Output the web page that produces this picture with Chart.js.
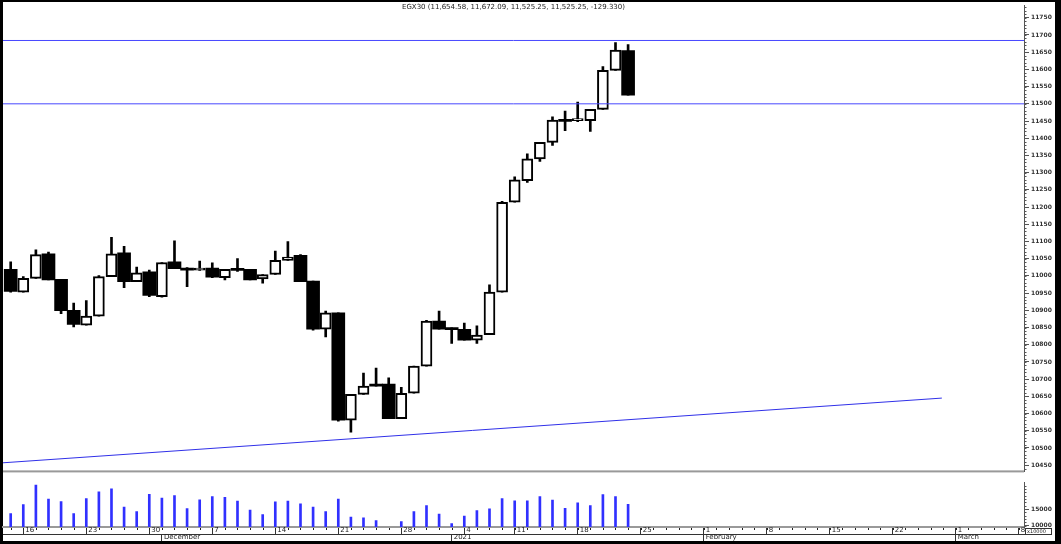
<!DOCTYPE html>
<html>
<head>
<meta charset="utf-8">
<script src="https://cdn.jsdelivr.net/npm/chart.js@4.4.1/dist/chart.umd.min.js"></script>
<style>
  html, body { margin: 0; padding: 0; background: #000; }
  #wrap { position: relative; width: 1061px; height: 544px; overflow: hidden; background: #000; }
  #paper { position: absolute; left: 3px; top: 2px; width: 1052px; height: 539px; background: #fff; }
  canvas { position: absolute; left: 0; }
  #price { top: 0; }
  #vol { top: 477px; }
</style>
</head>
<body>
<div id="wrap">
  <div id="paper"></div>
  <canvas id="price" width="1061" height="477"></canvas>
  <canvas id="vol" width="1061" height="67"></canvas>
</div>
<script>
const chartTitle = "EGX30 (11,654.58, 11,672.09, 11,525.25, 11,525.25, -129.330)";
const volUnit = "x10000";

// one entry per trading day, index 0 = 13 Nov 2020
const opens  = [11019, 10953, 10993, 11064, 10990, 10900, 10857, 10883, 10998, 11067,
                10983, 11012, 10940, 11041, 11022, 11017, 11023, 10995, 11019, 11019,
                10991, 11004, 11045, 11060, 10985, 10845, 10893, 10581, 10656, 10686,
                10686, 10585, 10659, 10738, 10869, 10849, 10845, 10813, 10829, 10953,
                11214, 11277, 11340, 11388, 11453, 11451, 11451, 11484, 11597, 11654.58];
const highs  = [11041, 10998, 11076, 11069, 10990, 10921, 10928, 11001, 11112, 11086,
                11026, 11017, 11039, 11102, 11024, 11043, 11038, 11019, 11050, 11019,
                11004, 11072, 11100, 11062, 10985, 10898, 10893, 10656, 10718, 10732,
                10704, 10676, 10738, 10871, 10898, 10849, 10863, 10855, 10974, 11217,
                11288, 11355, 11388, 11462, 11479, 11505, 11484, 11608, 11678, 11672.09];
const lows   = [10953, 10953, 10993, 10988, 10890, 10852, 10857, 10883, 10998, 10966,
                10983, 10940, 10938, 11021, 10969, 11016, 10995, 10988, 11013, 10988,
                10979, 11004, 11045, 10983, 10842, 10823, 10578, 10546, 10656, 10680,
                10585, 10585, 10659, 10738, 10845, 10804, 10813, 10804, 10829, 10953,
                11214, 11272, 11333, 11379, 11422, 11448, 11420, 11484, 11597, 11525.25];
const closes = [10955, 10993, 11062, 10988, 10899, 10859, 10883, 10998, 11064, 10983,
                11009, 10943, 11039, 11021, 11017, 11023, 10996, 11019, 11016, 10988,
                11004, 11045, 11055, 10983, 10845, 10893, 10581, 10656, 10680, 10680,
                10585, 10659, 10738, 10869, 10845, 10844, 10813, 10828, 10953, 11214,
                11279, 11340, 11388, 11453, 11449, 11452, 11484, 11597, 11656, 11525.25];
const volumes = [13641, 16358, 22227, 17988, 17254, 13641, 18152, 20162, 21059, 15625,
                 14266, 19429, 18342, 19075, 15163, 17798, 18804, 18532, 17445, 14728,
                 13369, 17173, 17445, 16630, 15625, 14266, 17988, 12635, 12364, 11549,
                 null, 11277, 14266, 16086, 13532, 10652, 12907, 14537, 15081, 18152,
                 17526, 17526, 18804, 17717, 15271, 16902, 16086, 19347, 18804, 16440];

const resistance = [11684, 11500];
const trendStart = { x: -0.61, y: 10457 };
const trendEnd = { x: 73.9, y: 10645 };

const priceTicks = [10450, 10500, 10550, 10600, 10650, 10700, 10750, 10800, 10850, 10900,
                    10950, 11000, 11050, 11100, 11150, 11200, 11250, 11300, 11350, 11400,
                    11450, 11500, 11550, 11600, 11650, 11700, 11750];
const volTicks = [10000, 15000];
const dayTickIdx = [1, 6, 11, 16, 21, 26, 31, 36, 40, 45, 50, 55, 60, 65, 70, 75, 80];
const dayTickLabels = ['16', '23', '30', '7', '14', '21', '28', '4', '11', '18', '25', '1', '8', '15', '22', '1', '8'];
const monthTickIdx = [12, 35, 55, 75];
const monthTickLabels = ['December', '2021', 'February', 'March'];

const xMin = -0.61, xMax = 80.42;
const priceMin = 10432, priceMax = 11785.4;
const volMin = 9647, volMax = 22960;

const FONT = 'DejaVu Sans';

const wicks = [], upBodies = [], downBodies = [];
opens.forEach((o, i) => {
  wicks.push({ x: i, y: [lows[i], highs[i]] });
  (closes[i] >= o ? upBodies : downBodies).push({ x: i, y: [o, closes[i]] });
});
const volData = [];
volumes.forEach((v, i) => { if (v !== null) volData.push({ x: i, y: v }); });

const minorTicks = {
  id: 'minorTicks',
  afterDraw(chart, args, opts) {
    const ctx = chart.ctx;
    const y = chart.scales.y;
    ctx.save();
    ctx.fillStyle = '#555';
    for (let v = Math.ceil(y.min / opts.step) * opts.step; v <= y.max; v += opts.step) {
      ctx.fillRect(y.left, Math.round(y.getPixelForValue(v)), 2.5, 1);
    }
    if (opts.days) {
      const x = chart.scales.x;
      ctx.fillStyle = '#222';
      for (let i = Math.ceil(x.min); i <= x.max; i++) {
        ctx.fillRect(Math.round(x.getPixelForValue(i)), x.top + 1, 1, 2);
      }
    }
    ctx.restore();
  }
};

const priceDecor = {
  id: 'priceDecor',
  afterDraw(chart) {
    const { ctx, chartArea: a } = chart;
    ctx.save();
    ctx.fillStyle = '#999';
    ctx.fillRect(a.left, a.bottom - 1, a.right - a.left, 2);
    ctx.fillStyle = '#222';
    ctx.font = '7px "' + FONT + '"';
    ctx.textAlign = 'center';
    ctx.textBaseline = 'middle';
    ctx.fillText(chartTitle, (a.left + a.right) / 2, 7);
    ctx.restore();
  }
};

const volDecor = {
  id: 'volDecor',
  afterDraw(chart) {
    const ctx = chart.ctx;
    const y = chart.scales.y;
    ctx.save();
    ctx.strokeStyle = '#333';
    ctx.lineWidth = 1;
    ctx.strokeRect(y.left + 1.5, y.bottom + 1.5, 26, 6);
    ctx.font = '5px "' + FONT + '"';
    ctx.fillStyle = '#222';
    ctx.textAlign = 'left';
    ctx.textBaseline = 'middle';
    ctx.fillText(volUnit, y.left + 3, y.bottom + 4.5);
    ctx.restore();
  }
};

const rightAxis = (min, max, tickVals) => ({
  type: 'linear',
  position: 'right',
  min: min,
  max: max,
  afterBuildTicks: s => { s.ticks = tickVals.map(v => ({ value: v })); },
  afterFit: s => { s.width = 31; },
  ticks: {
    autoSkip: false,
    padding: 2,
    color: '#333',
    font: { family: FONT, size: 6, weight: 'bold' },
    callback: v => (tickVals.includes(v) ? String(v) : '')
  },
  grid: { drawOnChartArea: false, drawTicks: true, tickLength: 5, color: '#555' },
  border: { display: true, color: '#555', width: 1 }
});

const dateAxis = (idx, labels, weight, borderColor, borderWidth) => ({
  type: 'linear',
  position: 'bottom',
  axis: 'x',
  weight: weight,
  min: xMin,
  max: xMax,
  offset: false,
  afterBuildTicks: s => { s.ticks = idx.map(v => ({ value: v })); },
  afterFit: s => { s.height = 7; },
  ticks: {
    autoSkip: false,
    maxRotation: 0,
    minRotation: 0,
    align: 'start',
    padding: -7,
    labelOffset: 2,
    color: '#222',
    font: { family: FONT, size: 7, lineHeight: 1 },
    callback: v => labels[idx.indexOf(v)]
  },
  grid: { drawOnChartArea: false, drawTicks: true, tickLength: 7, color: '#333', offset: false },
  border: { display: true, color: borderColor, width: borderWidth }
});

const flatLine = (y, color) => ({
  type: 'line',
  data: [{ x: xMin, y: y }, { x: xMax, y: y }],
  borderColor: color,
  borderWidth: 1,
  pointRadius: 0,
  order: 0
});

new Chart(document.getElementById('price'), {
  type: 'bar',
  data: {
    datasets: [
      {
        data: wicks,
        backgroundColor: '#000',
        barThickness: 2,
        grouped: false,
        order: 3
      },
      {
        data: upBodies,
        backgroundColor: '#fff',
        borderColor: '#000',
        borderWidth: 2,
        borderSkipped: false,
        barThickness: 11,
        minBarLength: 2,
        grouped: false,
        order: 1
      },
      {
        data: downBodies,
        backgroundColor: '#000',
        borderWidth: 0,
        barThickness: 13,
        minBarLength: 2,
        grouped: false,
        order: 1
      },
      flatLine(resistance[0], '#4848ff'),
      flatLine(resistance[1], '#4848ff'),
      {
        type: 'line',
        data: [trendStart, trendEnd],
        borderColor: '#3030e8',
        borderWidth: 1,
        pointRadius: 0,
        order: 0
      }
    ]
  },
  options: {
    responsive: false,
    animation: false,
    devicePixelRatio: 1,
    layout: { padding: { left: 3, right: 6, top: 3, bottom: 1 } },
    plugins: {
      legend: { display: false },
      tooltip: { enabled: false },
      minorTicks: { step: 10 }
    },
    scales: {
      x: { type: 'linear', min: xMin, max: xMax, offset: false, display: false },
      y: rightAxis(priceMin, priceMax, priceTicks)
    }
  },
  plugins: [minorTicks, priceDecor]
});

new Chart(document.getElementById('vol'), {
  type: 'bar',
  data: {
    datasets: [{
      data: volData,
      backgroundColor: '#3030ff',
      barThickness: 2,
      base: volMin,
      grouped: false
    }]
  },
  options: {
    responsive: false,
    animation: false,
    devicePixelRatio: 1,
    layout: { padding: { left: 3, right: 6, top: 1, bottom: 3 } },
    plugins: {
      legend: { display: false },
      tooltip: { enabled: false },
      minorTicks: { step: 1000, days: true }
    },
    scales: {
      x: dateAxis(dayTickIdx, dayTickLabels, 0, '#999', 2),
      x2: dateAxis(monthTickIdx, monthTickLabels, 1, '#333', 1),
      y: rightAxis(volMin, volMax, volTicks)
    }
  },
  plugins: [minorTicks, volDecor]
});
</script>
</body>
</html>
